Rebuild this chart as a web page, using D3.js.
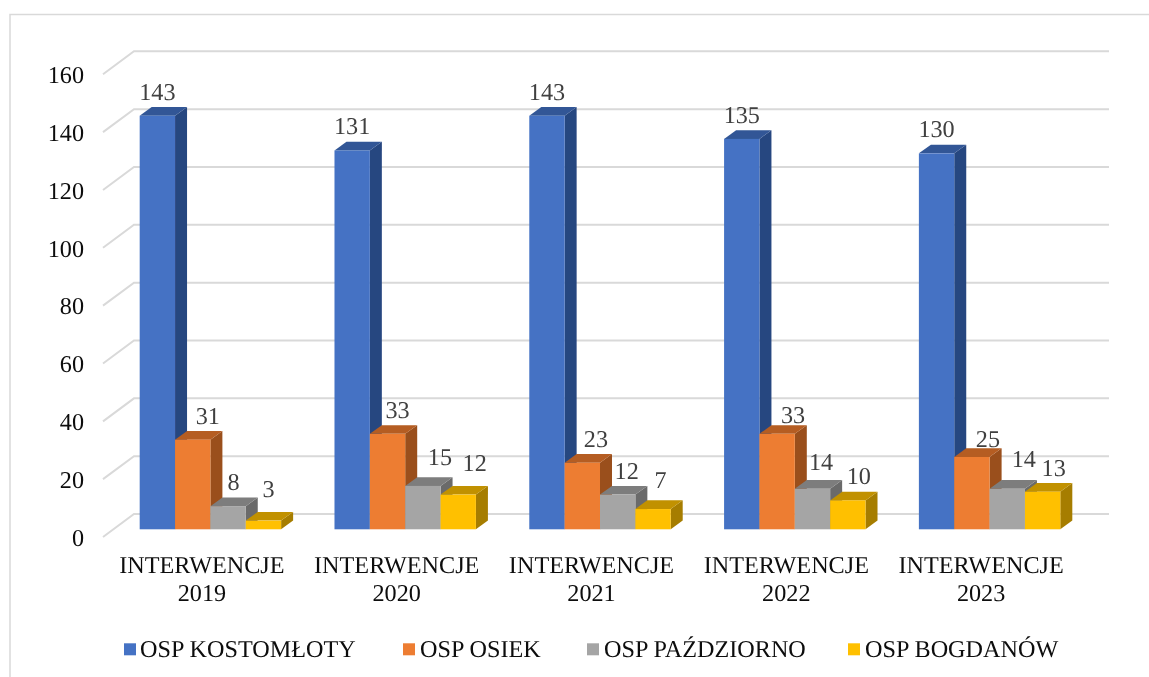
<!DOCTYPE html>
<html>
<head>
<meta charset="utf-8">
<script src="https://cdnjs.cloudflare.com/ajax/libs/d3/7.8.5/d3.min.js"></script>
<style>
html,body{margin:0;padding:0;background:#fff;overflow:hidden}
svg{display:block}
text{font-family:"Liberation Serif","Times New Roman",serif;font-size:24.2px;text-rendering:geometricPrecision}
</style>
</head>
<body>
<div id="chart"></div>
<script>
const categories = ["INTERWENCJE 2019","INTERWENCJE 2020","INTERWENCJE 2021","INTERWENCJE 2022","INTERWENCJE 2023"];
const seriesNames = ["OSP KOSTOMŁOTY","OSP OSIEK","OSP PAŹDZIORNO","OSP BOGDANÓW"];
const kostomloty = [143,131,143,135,130];
const osiek = [31,33,23,33,25];
const pazdziorno = [8,15,12,14,14];
const bogdanow = [3,12,7,10,13];
const yTicks = [0,20,40,60,80,100,120,140,160];

const seriesValues = [kostomloty, osiek, pazdziorno, bogdanow];
const faceColors = ["#4472C4","#ED7D31","#A5A5A5","#FFC000"];
const topColors = ["#325796","#B55D22","#7D7D7D","#C19100"];
const sideColors = ["#284680","#9A4F1B","#6B6B6B","#A67D00"];

// Hand-placed data label shifts from the bar centre / bar top, per series then category.
const labelDx = [[0,0,0,0,0],[15,10,13.6,16,16],[5.5,17,9,8.5,16.5],[5,16.4,7.6,11,11]];
const labelDy = [[-16,-16.7,-16,-16,-16.6],[-16,-16,-16,-11,-10],[-16,-21,-16,-19,-22],[-24,-24,-21,-16,-16]];
const legendSwatchX = [124,403,587,848];
const legendTextX = [140,420,604,865];

const W = 1149, H = 677;
const depthX = 12, depthY = 8.7;
const root = d3.select("#chart").append("svg").attr("width",W).attr("height",H);
root.append("defs").append("filter").attr("id","soft")
  .attr("filterUnits","userSpaceOnUse").attr("x",0).attr("y",0).attr("width",W).attr("height",H)
  .append("feGaussianBlur").attr("stdDeviation",0.4);
const svg = root.append("g").attr("filter","url(#soft)");

// frame runs off the right and bottom of the picture
svg.append("rect").attr("x",0).attr("y",0).attr("width",W).attr("height",H).attr("fill","#fff");
svg.append("rect").attr("x",10).attr("y",14.5).attr("width",W+20).attr("height",H+20)
  .attr("fill","#fff").attr("stroke","#d9d9d9").attr("stroke-width",1.5);

const y = d3.scaleLinear().domain([0,160]).range([529.3,66.6]);
const x0 = d3.scaleBand().domain(categories).range([113,1087]).paddingInner(0.274).paddingOuter(0.137);
const x1 = d3.scaleBand().domain(d3.range(4)).range([0,x0.bandwidth()]);
const xLabel = d3.scaleBand().domain(categories).range([104.5,1078.5]);

// gridlines: floor front edge -> back wall -> right end
const gridBack = -15.3, gridFront = 7.7, gridLeft = 103, gridCorner = 134, gridRight = 1109;
svg.append("g").selectAll("polyline").data(yTicks).join("polyline")
  .attr("points",d=>`${gridLeft},${y(d)+gridFront} ${gridCorner},${y(d)+gridBack} ${gridRight},${y(d)+gridBack}`)
  .attr("fill","none").attr("stroke","#d9d9d9").attr("stroke-width",2);

// y axis labels
const yAxis = d3.axisLeft(y).tickValues(yTicks).tickSize(0).tickPadding(0);
const gy = svg.append("g").attr("transform","translate(84,0)").call(yAxis);
gy.select(".domain").remove();
gy.selectAll("text").attr("x",0).attr("dy","16px").attr("fill","#0d0d0d")
  .style("font-family",'"Liberation Serif",serif').style("font-size","24.2px");

// bars
categories.forEach((c,ci)=>{
  const g = svg.append("g");
  seriesValues.forEach((vals,si)=>{
    const v = vals[ci];
    const xa = x0(c)+x1(si), w = x1.bandwidth(), t = y(v), b = y(0);
    g.append("polygon")
      .attr("points",`${xa+w},${t} ${xa+w+depthX},${t-depthY} ${xa+w+depthX},${b-depthY} ${xa+w},${b}`)
      .attr("fill",sideColors[si]);
    g.append("polygon")
      .attr("points",`${xa},${t} ${xa+depthX},${t-depthY} ${xa+w+depthX},${t-depthY} ${xa+w},${t}`)
      .attr("fill",topColors[si]);
    g.append("rect").attr("x",xa).attr("y",t).attr("width",w).attr("height",b-t)
      .attr("fill",faceColors[si]);
  });
});

// data labels
seriesValues.forEach((vals,si)=>{
  svg.append("g").selectAll("text").data(vals).join("text")
    .attr("x",(d,i)=>x0(categories[i])+x1(si)+x1.bandwidth()/2+labelDx[si][i])
    .attr("y",(d,i)=>y(d)+labelDy[si][i])
    .attr("text-anchor","middle").attr("fill","#404040").text(d=>d);
});

// category labels
const xg = svg.append("g").selectAll("text").data(categories).join("text")
  .attr("text-anchor","middle").attr("fill","#0d0d0d");
xg.each(function(c){
  const parts = c.split(" "), cx = xLabel(c)+xLabel.bandwidth()/2;
  const t = d3.select(this);
  t.append("tspan").attr("x",cx).attr("y",572.7).text(parts[0]);
  t.append("tspan").attr("x",cx).attr("y",601).text(parts[1]);
});

// legend
const lg = svg.append("g");
seriesNames.forEach((n,i)=>{
  lg.append("rect").attr("x",legendSwatchX[i]).attr("y",643.3).attr("width",12).attr("height",12).attr("fill",faceColors[i]);
  lg.append("text").attr("x",legendTextX[i]).attr("y",656.7).attr("fill","#0d0d0d").text(n);
});
</script>
</body>
</html>
